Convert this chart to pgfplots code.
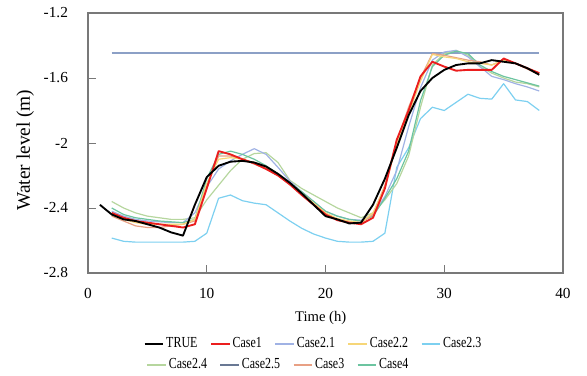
\documentclass[border=0pt]{standalone}
\usepackage{pgfplots}
\pgfplotsset{compat=1.18}
\usepackage{fontspec}
\setmainfont{Liberation Serif}
\definecolor{cTrue}{RGB}{0,0,0}
\definecolor{cOne}{RGB}{235,30,30}
\definecolor{cTwoOne}{RGB}{160,178,228}
\definecolor{cTwoTwo}{RGB}{246,214,120}
\definecolor{cTwoThree}{RGB}{125,208,240}
\definecolor{cTwoFour}{RGB}{182,214,158}
\definecolor{cTwoFive}{RGB}{140,160,198}
\definecolor{cThree}{RGB}{232,160,132}
\definecolor{cFour}{RGB}{108,196,160}
\definecolor{frame}{RGB}{120,120,120}
\newcommand{\lgd}[1]{\scalebox{0.78}[1]{#1}}
\pgfplotsset{
  mylegend/.style={
    legend columns=-1,
    legend cell align=left,
    legend style={draw=none, fill=none, anchor=center,
      font=\fontsize{11.5}{12}\selectfont, column sep=0pt,
      nodes={inner sep=1.5pt},
      /tikz/every even column/.append style={column sep=8pt}},
    legend image code/.code={\draw[##1] (0pt,0pt) -- (14pt,0pt);},
  }
}
\begin{document}
\begin{tikzpicture}
\begin{axis}[
  scale only axis, width=356.25pt, height=195pt,
  xmin=0, xmax=40, ymin=-2.8, ymax=-1.2,
  xtick={0,10,20,30,40}, ytick={-2.8,-2.4,-2,-1.6,-1.2},
  tick align=inside, major tick length=6pt,
  axis line style={frame, line width=0.9pt},
  tick style={frame, line width=0.9pt},
  every tick/.style={frame},
  xtick pos=bottom, ytick pos=left,
  /pgf/number format/assume math mode=true,
  ticklabel style={font=\fontsize{11.5}{13}\selectfont},
  xticklabel style={yshift=-8pt},
  yticklabel style={xshift=-11.5pt},
  xlabel={Time (h)}, ylabel={Water level (m)},
  xlabel style={font=\fontsize{11}{13}\selectfont, at={(axis description cs:0.49,-0.173)}, anchor=center},
  ylabel style={font=\fontsize{14.5}{16}\selectfont, at={(axis description cs:-0.132,0.473)}, anchor=center},
  mylegend,
  legend style={at={(axis description cs:0.4747,-0.272)}},
  every axis plot/.append style={line join=round},
]
\addlegendimage{cTrue, line width=1.4pt}\addlegendentry{\lgd{TRUE}}
\addlegendimage{cOne, line width=1.4pt}\addlegendentry{\lgd{Case1}}
\addlegendimage{cTwoOne, line width=1.2pt}\addlegendentry{\lgd{Case2.1}}
\addlegendimage{cTwoTwo, line width=1.2pt}\addlegendentry{\lgd{Case2.2}}
\addlegendimage{cTwoThree, line width=1.2pt}\addlegendentry{\lgd{Case2.3}}
% Case2.5
\addplot[cTwoFive, line width=1.1pt, forget plot] coordinates {(2,-1.445) (38,-1.445)};
% Case2.3
\addplot[cTwoThree, line width=0.9pt, forget plot] coordinates {
(2,-2.585)(3,-2.605)(4,-2.61)(5,-2.61)(6,-2.61)(7,-2.61)(8,-2.61)(9,-2.605)(10,-2.555)
(11,-2.34)(12,-2.32)(13,-2.355)(14,-2.37)(15,-2.38)(16,-2.43)(17,-2.48)(18,-2.525)(19,-2.56)
(20,-2.585)(21,-2.605)(22,-2.61)(23,-2.61)(24,-2.605)(25,-2.555)(26,-2.15)(27,-2.03)(28,-1.85)
(29,-1.78)(30,-1.80)(31,-1.75)(32,-1.70)(33,-1.725)(34,-1.73)(35,-1.635)(36,-1.735)(37,-1.745)(38,-1.80)};
% Case2.4
\addplot[cTwoFour, line width=0.9pt, forget plot] coordinates {
(2,-2.36)(3,-2.40)(4,-2.43)(5,-2.45)(6,-2.46)(7,-2.47)(8,-2.47)(9,-2.46)(10,-2.35)
(11,-2.26)(12,-2.17)(13,-2.10)(14,-2.065)(15,-2.06)(16,-2.12)(17,-2.23)(18,-2.28)(19,-2.32)
(20,-2.36)(21,-2.40)(22,-2.43)(23,-2.46)(24,-2.43)(25,-2.35)(26,-2.25)(27,-2.08)(28,-1.78)
(29,-1.52)(30,-1.45)(31,-1.43)(32,-1.46)(33,-1.53)(34,-1.57)(35,-1.60)(36,-1.625)(37,-1.635)(38,-1.655)};
% Case2.1
\addplot[cTwoOne, line width=0.9pt, forget plot] coordinates {
(2,-2.42)(3,-2.45)(4,-2.47)(5,-2.48)(6,-2.485)(7,-2.49)(8,-2.49)(9,-2.43)(10,-2.27)
(11,-2.16)(12,-2.11)(13,-2.07)(14,-2.035)(15,-2.07)(16,-2.15)(17,-2.235)(18,-2.30)(19,-2.36)
(20,-2.42)(21,-2.45)(22,-2.47)(23,-2.475)(24,-2.44)(25,-2.33)(26,-2.17)(27,-1.90)(28,-1.66)
(29,-1.49)(30,-1.44)(31,-1.43)(32,-1.47)(33,-1.53)(34,-1.59)(35,-1.61)(36,-1.635)(37,-1.655)(38,-1.68)};
% Case4
\addplot[cFour, line width=0.9pt, forget plot] coordinates {
(2,-2.40)(3,-2.44)(4,-2.46)(5,-2.47)(6,-2.48)(7,-2.485)(8,-2.49)(9,-2.47)(10,-2.22)
(11,-2.07)(12,-2.05)(13,-2.07)(14,-2.10)(15,-2.14)(16,-2.19)(17,-2.245)(18,-2.30)(19,-2.36)
(20,-2.42)(21,-2.45)(22,-2.47)(23,-2.48)(24,-2.45)(25,-2.34)(26,-2.22)(27,-2.05)(28,-1.74)
(29,-1.53)(30,-1.46)(31,-1.435)(32,-1.45)(33,-1.52)(34,-1.56)(35,-1.59)(36,-1.61)(37,-1.63)(38,-1.65)};
% Case3
\addplot[cThree, line width=0.9pt, forget plot] coordinates {
(2,-2.45)(3,-2.48)(4,-2.51)(5,-2.52)(6,-2.52)(7,-2.51)(8,-2.50)(9,-2.48)(10,-2.26)
(11,-2.08)(12,-2.08)(13,-2.10)(14,-2.13)(15,-2.16)(16,-2.20)(17,-2.255)(18,-2.32)(19,-2.38)
(20,-2.44)(21,-2.47)(22,-2.49)(23,-2.49)(24,-2.44)(25,-2.26)(26,-1.99)(27,-1.78)(28,-1.60)
(29,-1.45)(30,-1.46)(31,-1.475)(32,-1.49)(33,-1.50)(34,-1.52)(35,-1.49)(36,-1.51)(37,-1.545)(38,-1.58)};
% Case2.2
\addplot[cTwoTwo, line width=0.9pt, forget plot] coordinates {
(2,-2.44)(3,-2.47)(4,-2.49)(5,-2.50)(6,-2.50)(7,-2.50)(8,-2.50)(9,-2.47)(10,-2.25)
(11,-2.10)(12,-2.09)(13,-2.10)(14,-2.12)(15,-2.155)(16,-2.20)(17,-2.25)(18,-2.31)(19,-2.37)
(20,-2.43)(21,-2.465)(22,-2.48)(23,-2.49)(24,-2.43)(25,-2.27)(26,-2.01)(27,-1.82)(28,-1.62)
(29,-1.455)(30,-1.47)(31,-1.48)(32,-1.50)(33,-1.51)(34,-1.52)(35,-1.49)(36,-1.51)(37,-1.54)(38,-1.57)};
% Case1
\addplot[cOne, line width=1.4pt, forget plot] coordinates {
(2,-2.43)(3,-2.46)(4,-2.48)(5,-2.49)(6,-2.50)(7,-2.51)(8,-2.52)(9,-2.50)(10,-2.28)
(11,-2.05)(12,-2.07)(13,-2.10)(14,-2.125)(15,-2.16)(16,-2.20)(17,-2.255)(18,-2.32)(19,-2.38)
(20,-2.44)(21,-2.475)(22,-2.49)(23,-2.50)(24,-2.46)(25,-2.28)(26,-1.98)(27,-1.80)(28,-1.59)
(29,-1.50)(30,-1.53)(31,-1.555)(32,-1.55)(33,-1.55)(34,-1.55)(35,-1.48)(36,-1.51)(37,-1.54)(38,-1.57)};
% TRUE
\addplot[cTrue, line width=1.4pt, forget plot] coordinates {
(1,-2.38)(2,-2.44)(3,-2.47)(4,-2.48)(5,-2.50)(6,-2.52)(7,-2.55)(8,-2.57)(9,-2.38)(10,-2.21)
(11,-2.14)(12,-2.115)(13,-2.11)(14,-2.12)(15,-2.145)(16,-2.19)(17,-2.245)(18,-2.31)(19,-2.38)
(20,-2.45)(21,-2.47)(22,-2.495)(23,-2.49)(24,-2.38)(25,-2.22)(26,-2.03)(27,-1.83)(28,-1.68)
(29,-1.60)(30,-1.55)(31,-1.52)(32,-1.51)(33,-1.51)(34,-1.49)(35,-1.50)(36,-1.51)(37,-1.54)(38,-1.58)};
\end{axis}
\begin{axis}[
  scale only axis, width=356.25pt, height=195pt,
  xmin=0, xmax=40, ymin=-2.8, ymax=-1.2,
  hide axis,
  mylegend,
  legend style={at={(axis description cs:0.401,-0.353)}},
]
\addlegendimage{cTwoFour, line width=1.2pt}\addlegendentry{\lgd{Case2.4}}
\addlegendimage{cTwoFive!75!black, line width=1.2pt}\addlegendentry{\lgd{Case2.5}}
\addlegendimage{cThree, line width=1.2pt}\addlegendentry{\lgd{Case3}}
\addlegendimage{cFour, line width=1.2pt}\addlegendentry{\lgd{Case4}}
\end{axis}
\path (current axis.south west) ++(-66pt,204.75pt) rectangle ++(440.25pt,-279pt);
\end{tikzpicture}
\end{document}
